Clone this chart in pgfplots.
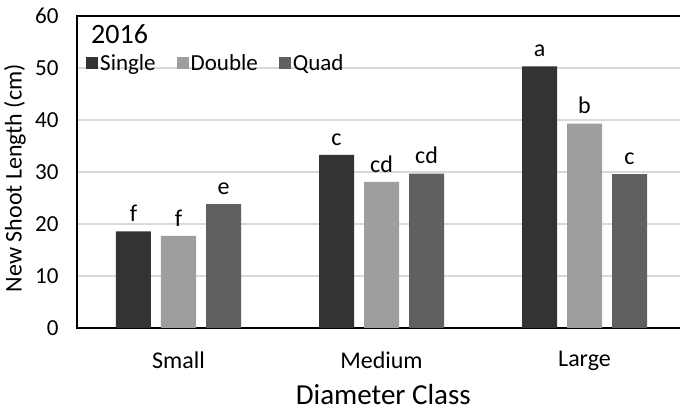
\documentclass[border=0pt]{standalone}
\usepackage{fontspec}
\setmainfont{Carlito}
\usepackage{pgfplots}
\pgfplotsset{compat=1.18}

\definecolor{single}{HTML}{333333}
\definecolor{double}{HTML}{9E9E9E}
\definecolor{quad}{HTML}{606060}
\definecolor{gridc}{HTML}{D9D9D9}

\begin{document}
\begin{tikzpicture}
\begin{axis}[
    name=ax,
    scale only axis,
    width=609pt, height=312pt,
    xmin=-0.5, xmax=2.5,
    ymin=0, ymax=60,
    ytick={0,10,20,30,40,50,60},
    xtick={0,1,2},
    xticklabels={Small,Medium,Large},
    major tick length=0pt,
    ymajorgrids=true,
    grid style={gridc, line width=1.3pt},
    axis line style={black, line width=1.4pt},
    /pgf/number format/assume math mode=true,
    yticklabel style={font=\fontsize{23}{27}\selectfont, xshift=-15pt},
    xticklabel style={font=\fontsize{24}{28}\selectfont, yshift=-20pt},
    xlabel={Diameter Class},
    xlabel style={font=\fontsize{29}{33}\selectfont, at={(axis description cs:0.503,-0.245)}, anchor=base},
    ylabel={New Shoot Length (cm)},
    ylabel style={font=\fontsize{24}{28}\selectfont, at={(axis description cs:-0.102,0.48)}, anchor=center, rotate=0},
    ybar=10pt,
    bar width=35pt,
    nodes near coords,
    point meta=explicit symbolic,
    nodes near coords style={font=\fontsize{24}{28}\selectfont, anchor=south, yshift=6pt, text=black},
    legend columns=3,
    legend style={draw=none, fill=none, at={(axis description cs:0.0148,0.85)}, anchor=west,
        font=\fontsize{23}{27}\selectfont, inner sep=0pt,
        /tikz/every even column/.append style={column sep=19pt}},
    legend image code/.code={\fill[#1] (0pt,-6pt) rectangle (12pt,6pt);},
]
\addplot[fill=single, draw=none] coordinates {(0,18.6) [f] (1,33.3) [c] (2,50.3) [a]};
\addplot[fill=double, draw=none] coordinates {(0,17.7) [f] (1,28.1) [cd] (2,39.3) [b]};
\addplot[fill=quad, draw=none] coordinates {(0,23.8) [e] (1,29.7) [cd] (2,29.6) [c]};
\legend{Single,Double,Quad}
\node[anchor=west, font=\fontsize{28}{32}\selectfont, inner sep=0pt] at (axis description cs:0.023,0.942) {2016};
\end{axis}
\pgfresetboundingbox
\path ([xshift=-77pt,yshift=-84pt]ax.south west) rectangle ([xshift=-6pt,yshift=16pt]ax.north east);
\end{tikzpicture}
\end{document}
